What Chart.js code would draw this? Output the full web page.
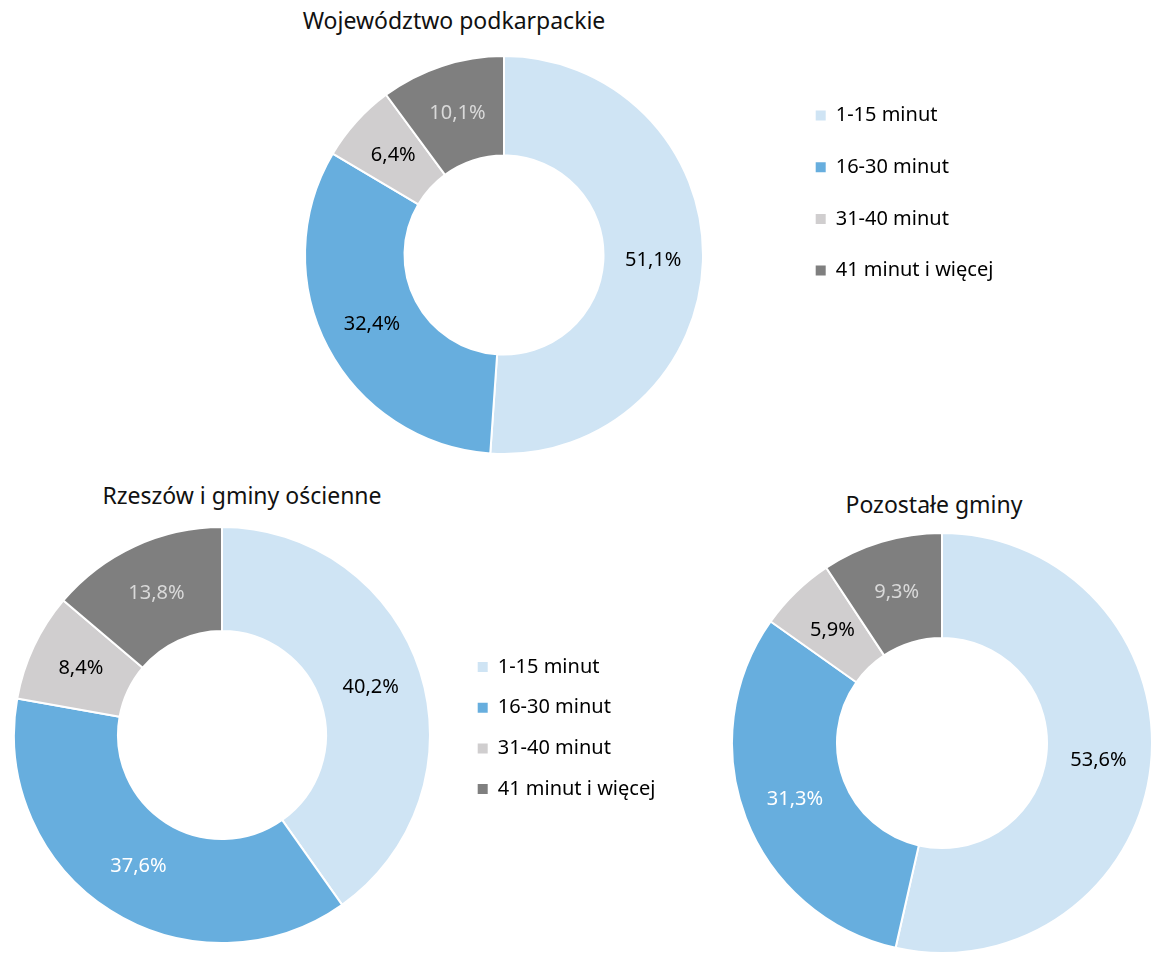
<!DOCTYPE html>
<html>
<head>
<meta charset="utf-8">
<script src="https://cdn.jsdelivr.net/npm/chart.js@4.4.1/dist/chart.umd.min.js"></script>
<style>
html,body{margin:0;padding:0;background:#fff;}
body{width:1153px;height:954px;overflow:hidden;position:relative;font-family:"Noto Sans",sans-serif;}
canvas{position:absolute;}
.title{position:absolute;font-size:23px;line-height:1;color:#111;white-space:nowrap;transform:translateX(-50%);}
</style>
</head>
<body>
<div class="title" id="t1" style="left:454px;top:9px;"></div>
<div class="title" id="t2" style="left:242px;top:484px;"></div>
<div class="title" id="t3" style="left:934px;top:493px;"></div>
<canvas id="c1" width="840" height="400" style="left:224px;top:55px;"></canvas>
<canvas id="c2" width="720" height="418" style="left:-13px;top:526px;"></canvas>
<canvas id="c3" width="422" height="422" style="left:731px;top:532px;"></canvas>
<script>
// ---- data ----
const categories = ['1-15 minut', '16-30 minut', '31-40 minut', '41 minut i więcej'];
const valuesWojewodztwo = [51.1, 32.4, 6.4, 10.1];
const valuesRzeszow = [40.2, 37.6, 8.4, 13.8];
const valuesPozostale = [53.6, 31.3, 5.9, 9.3];
const chartTitles = ['Województwo podkarpackie', 'Rzeszów i gminy ościenne', 'Pozostałe gminy'];

// ---- styles ----
const sliceColors = ['#CFE4F4', '#67AEDE', '#D0CECF', '#7F7F7F'];
const labelColors1 = ['#000000', '#000000', '#000000', '#D9D9D9'];
const labelColors2 = ['#000000', '#FFFFFF', '#000000', '#D9D9D9'];
const labelColors3 = ['#000000', '#FFFFFF', '#000000', '#D9D9D9'];
const FONT = '"Noto Sans", sans-serif';
const LEGEND_SIZE = 20;
const BOX = 10;

document.getElementById('t1').textContent = chartTitles[0];
document.getElementById('t2').textContent = chartTitles[1];
document.getElementById('t3').textContent = chartTitles[2];

const fmt = v => v.toFixed(1).replace('.', ',') + '%';

// width of the widest legend text, for sizing the legend box
const mctx = document.createElement('canvas').getContext('2d');
mctx.font = 'normal ' + LEGEND_SIZE + 'px ' + FONT;
const maxTextW = Math.max(...categories.map(c => mctx.measureText(c).width));

const sliceLabels = {
  id: 'sliceLabels',
  afterDatasetsDraw(chart, args, opts) {
    const ctx = chart.ctx;
    const meta = chart.getDatasetMeta(0);
    const data = chart.data.datasets[0].data;
    ctx.save();
    ctx.font = '20px ' + FONT;
    ctx.textAlign = 'center';
    ctx.textBaseline = 'middle';
    meta.data.forEach((arc, i) => {
      const p = arc.getCenterPoint(true);
      ctx.fillStyle = opts.colors[i];
      ctx.fillText(fmt(data[i]), p.x, p.y);
    });
    ctx.restore();
  }
};

function legendCfg(padding, titleGap) {
  return {
    display: true,
    position: 'right',
    align: 'start',
    title: {display: true, text: '', font: {size: 10}, padding: {top: titleGap, bottom: 0}},
    labels: {
      boxWidth: BOX,
      boxHeight: BOX,
      padding: padding,
      color: '#000',
      font: {family: FONT, size: LEGEND_SIZE},
      generateLabels(chart) {
        const items = Chart.overrides.doughnut.plugins.legend.labels.generateLabels(chart);
        return items.map(it => Object.assign({}, it, {lineWidth: 0, strokeStyle: 'rgba(0,0,0,0)'}));
      }
    }
  };
}

// padding on the right so that the legend starts right after a chart area of width areaW
function rightPad(canvasW, areaW, padding) {
  const legendW = padding + BOX + LEGEND_SIZE / 2 + maxTextW + 10;
  return canvasW - areaW - legendW;
}

function makeChart(id, values, labelColors, legend, padRight) {
  return new Chart(document.getElementById(id), {
    type: 'doughnut',
    data: {
      labels: categories,
      datasets: [{
        data: values,
        backgroundColor: sliceColors,
        borderColor: '#FFFFFF',
        borderWidth: 2
      }]
    },
    options: {
      responsive: false,
      animation: false,
      events: [],
      cutout: '50%',
      layout: {padding: {left: 0, top: 0, bottom: 0, right: padRight}},
      plugins: {
        legend: legend,
        title: {display: false},
        tooltip: {enabled: false},
        sliceLabels: {colors: labelColors}
      }
    },
    plugins: [sliceLabels]
  });
}

makeChart('c1', valuesWojewodztwo, labelColors1, legendCfg(31.7, 6.8), rightPad(840, 560, 31.7));
makeChart('c2', valuesRzeszow, labelColors2, legendCfg(20.7, 98.3), rightPad(720, 470, 20.7));
makeChart('c3', valuesPozostale, labelColors3, {display: false}, 0);
</script>
</body>
</html>
